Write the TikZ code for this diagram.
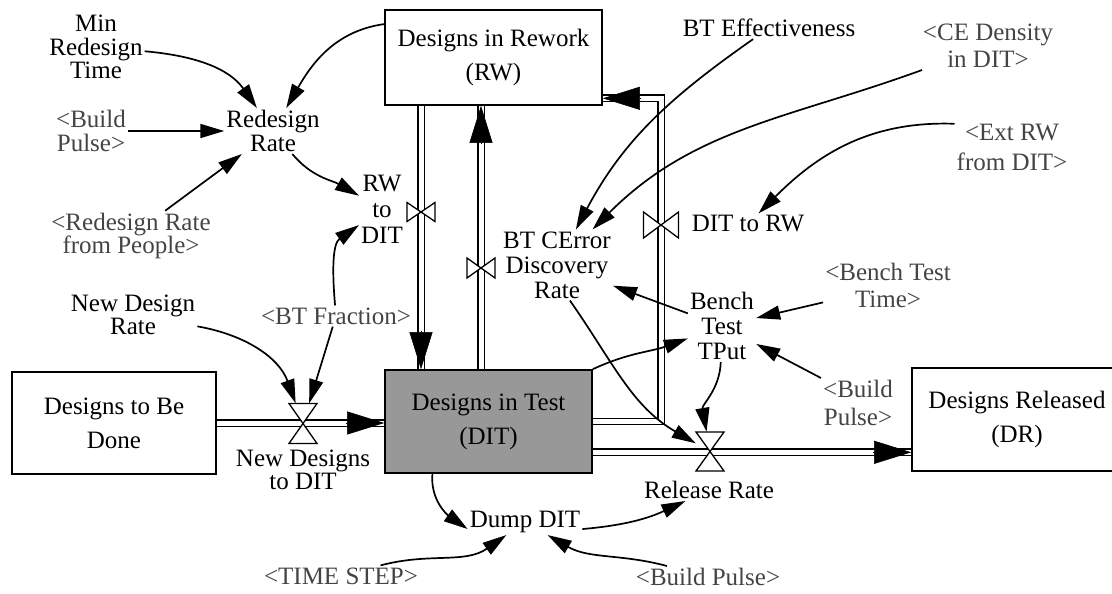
\documentclass[tikz,border=0pt]{standalone}
\usepackage{fontspec}
\setmainfont{Liberation Serif}
\usetikzlibrary{arrows.meta,calc}
\definecolor{shadowgray}{RGB}{68,68,68}
\definecolor{stockfill}{RGB}{152,152,152}
\newcommand{\fs}[1]{\fontsize{25}{#1}\selectfont}

\begin{document}
\begin{tikzpicture}[x=1pt,y=1pt,
  every node/.style={font=\fs{23.5}, align=center, inner sep=2pt},
  stock/.style={draw, line width=1.6pt, inner sep=0pt, font=\fs{34}},
  shadow/.style={text=shadowgray},
  link/.style={draw, line width=1.7pt, -{Triangle[length=24pt,width=14pt]}},
  pipe/.style={draw, line width=1.4pt, double=white, double distance=5pt},
  pipetip/.style={line width=0.5pt, -{Triangle[length=37pt,width=23pt]}},
  valvebox/.style={inner sep=0pt},
  valveline/.style={draw, fill=white, line width=1.3pt, line join=miter},
  pics/hvalve/.style 2 args={code={\path[valveline] (-#1,-#2) -- (#1,-#2) -- (-#1,#2) -- (#1,#2) -- cycle;}},
  pics/vvalve/.style 2 args={code={\path[valveline] (-#1,-#2) -- (-#1,#2) -- (#1,-#2) -- (#1,#2) -- cycle;}},
]
\useasboundingbox (0,0) rectangle (1112,-594);

% stocks
\node[stock, minimum width=217pt, minimum height=95pt] (rwbox) at (493.5,-57.5) {Designs in Rework\\(RW)};
\node[stock, fill=stockfill, minimum width=207pt, minimum height=103pt] (dit) at (488.5,-421.5) {Designs in Test\\(DIT)};
\node[stock, minimum width=204pt, minimum height=102pt] (todo) at (114,-423) {Designs to Be\\Done};
\node[stock, minimum width=210pt, minimum height=103pt] (drbox) at (1017,-419.5) {Designs Released\\(DR)};

% valve positions
\node[valvebox, minimum width=28pt, minimum height=40pt] (ndv) at (303,-423.5) {};
\node[valvebox, minimum width=28pt, minimum height=39pt] (relv) at (710,-451.5) {};
\node[valvebox, minimum width=28pt, minimum height=19pt] (rwdv) at (421,-212) {};
\node[valvebox, minimum width=28pt, minimum height=20pt] (btcv) at (481,-268) {};
\node[valvebox, minimum width=35pt, minimum height=26pt] (ditrwv) at (661,-225) {};

% flows
\coordinate (ditout1) at (dit.east);
\coordinate (ditout2) at ($(dit.south east)+(0,21.5)$);
\coordinate (rwin) at ($(rwbox.south east)+(0,7.5)$);

\draw[pipe] (todo.east) -- (todo.east -| dit.west);
\draw[pipetip] ($(todo.east -| dit.west)+(-38,0)$) -- (todo.east -| dit.west);

\draw[pipe] (rwdv |- rwbox.south) -- (rwdv |- dit.north);
\draw[pipetip] ($(rwdv |- dit.north)+(0,38)$) -- (rwdv |- dit.north);

\draw[pipe] (btcv |- dit.north) -- (btcv |- rwbox.south);
\draw[pipetip] ($(btcv |- rwbox.south)+(0,-38)$) -- (btcv |- rwbox.south);

\draw[pipe] (ditout1) -- (ditout1 -| ditrwv) -- (ditrwv |- rwin) -- (rwin);
\draw[pipetip] ($(rwin)+(38,0)$) -- (rwin);

\draw[pipe] (ditout2) -- (ditout2 -| drbox.west);
\draw[pipetip] ($(ditout2 -| drbox.west)+(-38,0)$) -- (ditout2 -| drbox.west);

\pic at (ndv) {hvalve={14}{20}};
\pic at (relv) {hvalve={14}{19.5}};
\pic at (rwdv) {vvalve={14}{9.5}};
\pic at (btcv) {vvalve={14}{10}};
\pic at (ditrwv) {vvalve={17.5}{13}};

% variables
\node[font=\fs{23.5}] (minrt) at (96,-47) {Min\\Redesign\\Time};
\node[shadow] (bp1) at (91,-131) {<Build\\Pulse>};
\node[font=\fs{24}] (rr) at (273,-131) {Redesign\\Rate};
\node[shadow] (rrfp) at (131,-236) {<Redesign Rate\\from People>};
\node[font=\fs{26}] (rwdit) at (382,-209) {RW\\to\\DIT};
\node[shadow] (btfrac) at (336,-316) {<BT Fraction>};
\node (ndrate) at (133,-315) {New Design\\Rate};
\node[font=\fs{23.5}] (ndlbl) at (303,-470) {New Designs\\to DIT};
\node (dump) at (525,-522) {Dump DIT};
\node[shadow] (tstep) at (341,-576) {<TIME STEP>};
\node[shadow] (bp3) at (708,-577) {<Build Pulse>};
\node (rellbl) at (709,-490) {Release Rate};
\node (bteff) at (769,-28) {BT Effectiveness};
\node[shadow, font=\fs{27}] (ced) at (988,-46) {<CE Density\\in DIT>};
\node[shadow, font=\fs{30}] (extrw) at (1012,-147) {<Ext RW\\from DIT>};
\node (ditrw) at (748,-224) {DIT to RW};
\node[font=\fs{25}] (btcer) at (557,-265) {BT CError\\Discovery\\Rate};
\node[shadow, font=\fs{27}] (bttime) at (888,-285) {<Bench Test\\Time>};
\node[font=\fs{25}] (bttput) at (722,-326) {Bench\\Test\\TPut};
\node[shadow, font=\fs{28}] (bp2) at (858,-403) {<Build\\Pulse>};

% information links
\draw[link] (minrt) to[out=-5, in=125] (rr);
\draw[link] (rwbox.163) to[out=188, in=60] (rr);
\draw[link] (bp1) -- (rr);
\draw[link] (rrfp) -- (rr);
\draw[link] (rr) to[out=-50, in=150] (rwdit);
\draw[link] (btfrac) to[out=95, in=215] (rwdit);
\draw[link] (btfrac) -- (ndv);
\draw[link] (ndrate) to[out=-10, in=110] (ndv);
\draw[link] (bteff) to[out=215, in=62] (btcer);
\draw[link] (ced) to[out=200, in=45] (btcer);
\draw[link] (extrw.158) to[out=178, in=45] (ditrw);
\draw[link] (bttime.195) -- (bttput);
\draw[link] (bp2.north west) -- (bttput);
\draw[link] (bttput) -- (btcer);
\draw[link] (dit.north east) to[out=25, in=200] (bttput);
\draw[link] (btcer.-70) to[out=-55, in=150] (relv);
\draw[link] (bttput) to[out=-92, in=100] (relv);
\draw[link] (dit.223) to[out=-95, in=145] (dump.187);
\draw[link] (dump.-7) to[out=5, in=205] (rellbl);
\draw[link] (tstep) to[out=15, in=215] (dump);
\draw[link] (bp3) to[out=165, in=-30] (dump);
\end{tikzpicture}
\end{document}
